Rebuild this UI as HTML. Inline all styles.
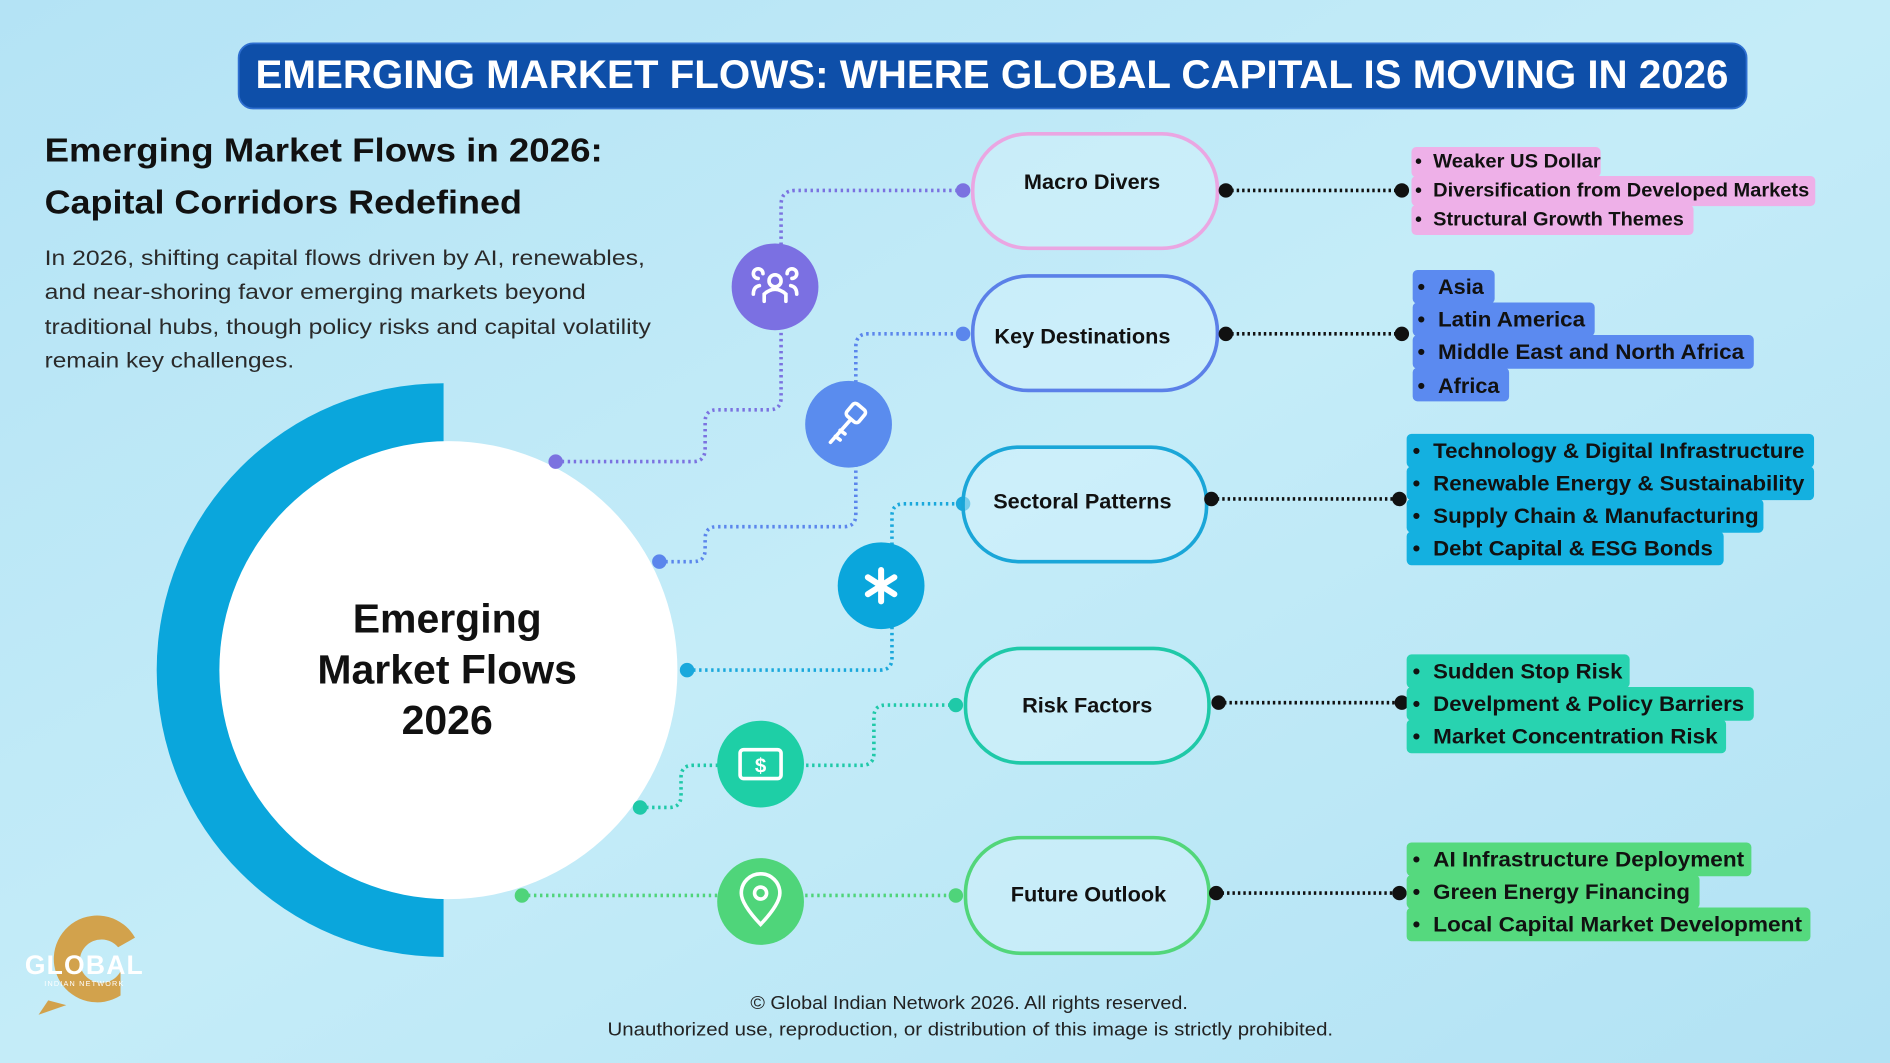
<!DOCTYPE html>
<html><head><meta charset="utf-8"><style>
html,body{margin:0;padding:0;width:1890px;height:1063px;overflow:hidden;background:#bde8f6}
svg{display:block}
text{font-family:"Liberation Sans",sans-serif}
</style></head><body>
<svg width="1890" height="1063" viewBox="0 0 1568 882" preserveAspectRatio="none" xmlns="http://www.w3.org/2000/svg">
<defs>
<linearGradient id="bg" x1="0" y1="0" x2="1" y2="1">
<stop offset="0" stop-color="#b4e3f5"/><stop offset="0.5" stop-color="#c4ecf8"/><stop offset="1" stop-color="#b2e2f4"/>
</linearGradient>
<clipPath id="lh"><rect x="0" y="0" width="368" height="882"/></clipPath>
</defs>
<rect width="1568" height="882" fill="url(#bg)"/>

<!-- title -->
<rect x="198" y="36" width="1251" height="54" rx="12" fill="#0e4fa9" stroke="#2f6fd0" stroke-width="1.5"/>
<text x="823" y="73" text-anchor="middle" font-size="33" font-weight="bold" fill="#fff" textLength="1222" lengthAdjust="spacingAndGlyphs">EMERGING MARKET FLOWS: WHERE GLOBAL CAPITAL IS MOVING IN 2026</text>

<!-- heading -->
<text x="37" y="134" font-size="28" font-weight="bold" fill="#111" textLength="463" lengthAdjust="spacingAndGlyphs">Emerging Market Flows in 2026:</text>
<text x="37" y="177" font-size="28" font-weight="bold" fill="#111" textLength="396" lengthAdjust="spacingAndGlyphs">Capital Corridors Redefined</text>
<g font-size="18" fill="#2a2a2a">
<text x="37" y="220" textLength="498" lengthAdjust="spacingAndGlyphs">In 2026, shifting capital flows driven by AI, renewables,</text>
<text x="37" y="248" textLength="449" lengthAdjust="spacingAndGlyphs">and near-shoring favor emerging markets beyond</text>
<text x="37" y="277" textLength="503" lengthAdjust="spacingAndGlyphs">traditional hubs, though policy risks and capital volatility</text>
<text x="37" y="305" textLength="207" lengthAdjust="spacingAndGlyphs">remain key challenges.</text>
</g>

<!-- big ring -->
<circle cx="368" cy="556" r="238" fill="#0aa6dc" clip-path="url(#lh)"/>
<circle cx="372" cy="556" r="190" fill="#fff"/>
<g font-size="34" font-weight="bold" fill="#111" text-anchor="middle">
<text x="371" y="525">Emerging</text>
<text x="371" y="567">Market Flows</text>
<text x="371" y="609">2026</text>
</g>

<!-- colored dotted connectors -->
<g fill="none" stroke-width="3" stroke-dasharray="2 3">
<path d="M461,383 H575 Q585,383 585,372 V350 Q585,340 595,340 H638 Q648,340 648,330 V170 Q648,158 660,158 H799" stroke="#7b72e0"/>
<path d="M547,466 H575 Q585,466 585,456 V447 Q585,437 595,437 H700 Q710,437 710,427 V288 Q710,277 720,277 H799" stroke="#5b86ec"/>
<path d="M570,556 H730 Q740,556 740,546 V428 Q740,418 750,418 H799" stroke="#1aa8dc"/>
<path d="M531,670 H555 Q565,670 565,660 V645 Q565,635 575,635 H715 Q725,635 725,625 V595 Q725,585 735,585 H793" stroke="#1fc9a8"/>
<path d="M433,743 H793" stroke="#4fd47a"/>
</g>
<circle cx="461" cy="383" r="6" fill="#7b72e0"/><circle cx="799" cy="158" r="6" fill="#7b72e0"/>
<circle cx="547" cy="466" r="6" fill="#5b86ec"/><circle cx="799" cy="277" r="6" fill="#5b86ec"/>
<circle cx="570" cy="556" r="6" fill="#1aa8dc"/><circle cx="799" cy="418" r="6" fill="#1aa8dc"/>
<circle cx="531" cy="670" r="6" fill="#1fc9a8"/><circle cx="793" cy="585" r="6" fill="#1fc9a8"/>
<circle cx="433" cy="743" r="6" fill="#4fd47a"/><circle cx="793" cy="743" r="6" fill="#4fd47a"/>

<!-- icons -->
<circle cx="643" cy="238" r="36" fill="#7b70e2"/>
<g stroke="#fff" stroke-width="3" fill="none" stroke-linecap="round">
<circle cx="643" cy="233" r="5"/><path d="M634,250 V244 Q643,236 652,244 V250"/>
<path d="M629,231 a4,4 0 1 1 4,-4 M625,244 Q625,238 630,237"/>
<path d="M657,231 a4,4 0 1 0 -4,-4 M661,244 Q661,238 656,237"/>
</g>
<circle cx="704" cy="352" r="36" fill="#5a8cee"/>
<g stroke="#fff" stroke-width="3" fill="none" stroke-linecap="round">
<rect x="704" y="336" width="13" height="13" rx="3" transform="rotate(40 710 342)"/>
<path d="M705,349 L689,367 M693,362 l4,3 M697,357 l4,3"/>
</g>
<circle cx="731" cy="486" r="36" fill="#0aa6dc"/>
<g stroke="#fff" stroke-width="5" stroke-linecap="round">
<path d="M731,473 V499 M720,479 L742,493 M742,479 L720,493"/>
</g>
<circle cx="631" cy="634" r="36" fill="#1ecfa6"/>
<rect x="614" y="622" width="34" height="24" rx="3" fill="none" stroke="#fff" stroke-width="3"/>
<text x="631" y="641" text-anchor="middle" font-size="17" font-weight="bold" fill="#fff">$</text>
<circle cx="631" cy="748" r="36" fill="#4fd57a"/>
<path d="M631,767 Q615,750 615,741 A16,16 0 1 1 647,741 Q647,750 631,767 Z" fill="none" stroke="#fff" stroke-width="3"/>
<circle cx="631" cy="741" r="5" fill="none" stroke="#fff" stroke-width="3"/>

<!-- pills -->
<g stroke-width="3" fill="#d4f1fb" fill-opacity="0.5">
<rect x="807" y="111" width="203" height="95" rx="46" stroke="#eaa6e2"/>
<rect x="807" y="229" width="203" height="95" rx="46" stroke="#5b80e8"/>
<rect x="799" y="371" width="202" height="95" rx="46" stroke="#1aa6d8"/>
<rect x="801" y="538" width="202" height="95" rx="46" stroke="#1fc9a8"/>
<rect x="801" y="695" width="202" height="96" rx="46" stroke="#52d67a"/>
</g>
<g font-size="18" font-weight="bold" fill="#111" text-anchor="middle">
<text x="906" y="157">Macro Divers</text>
<text x="898" y="285">Key Destinations</text>
<text x="898" y="422">Sectoral Patterns</text>
<text x="902" y="591">Risk Factors</text>
<text x="903" y="748">Future Outlook</text>
</g>

<!-- black connectors -->
<g stroke="#111" stroke-width="3" stroke-dasharray="2 2.5" fill="none">
<path d="M1017,158 H1163"/><path d="M1017,277 H1163"/><path d="M1005,414 H1161"/><path d="M1011,583 H1163"/><path d="M1009,741 H1161"/>
</g>
<g fill="#111">
<circle cx="1017" cy="158" r="6"/><circle cx="1163" cy="158" r="6"/>
<circle cx="1017" cy="277" r="6"/><circle cx="1163" cy="277" r="6"/>
<circle cx="1005" cy="414" r="6"/><circle cx="1161" cy="414" r="6"/>
<circle cx="1011" cy="583" r="6"/><circle cx="1163" cy="583" r="6"/>
<circle cx="1009" cy="741" r="6"/><circle cx="1161" cy="741" r="6"/>
</g>

<!-- bullet boxes -->
<g fill="#eeb0e8">
<rect x="1171" y="122" width="157" height="25" rx="4"/><rect x="1171" y="146" width="335" height="25" rx="4"/><rect x="1171" y="170" width="234" height="25" rx="4"/>
</g>
<g fill="#5b8af0">
<rect x="1172" y="224" width="68" height="28" rx="4"/><rect x="1172" y="251" width="151" height="28" rx="4"/><rect x="1172" y="278" width="283" height="28" rx="4"/><rect x="1172" y="305" width="80" height="28" rx="4"/>
</g>
<g fill="#14b0e0">
<rect x="1167" y="360" width="338" height="28" rx="4"/><rect x="1167" y="387" width="338" height="28" rx="4"/><rect x="1167" y="414" width="296" height="28" rx="4"/><rect x="1167" y="441" width="263" height="28" rx="4"/>
</g>
<g fill="#28d3b0">
<rect x="1167" y="543" width="185" height="28" rx="4"/><rect x="1167" y="570" width="288" height="28" rx="4"/><rect x="1167" y="597" width="265" height="28" rx="4"/>
</g>
<g fill="#55d97e">
<rect x="1167" y="699" width="286" height="28" rx="4"/><rect x="1167" y="726" width="243" height="28" rx="4"/><rect x="1167" y="753" width="335" height="28" rx="4"/>
</g>
<g font-weight="bold" fill="#111">
<g font-size="16">
<text x="1174" y="139">•</text><text x="1189" y="139" textLength="139" lengthAdjust="spacingAndGlyphs">Weaker US Dollar</text>
<text x="1174" y="163">•</text><text x="1189" y="163" textLength="312" lengthAdjust="spacingAndGlyphs">Diversification from Developed Markets</text>
<text x="1174" y="187">•</text><text x="1189" y="187" textLength="208" lengthAdjust="spacingAndGlyphs">Structural Growth Themes</text>
</g>
<g font-size="18">
<text x="1176" y="244">•</text><text x="1193" y="244">Asia</text>
<text x="1176" y="271">•</text><text x="1193" y="271" textLength="122" lengthAdjust="spacingAndGlyphs">Latin America</text>
<text x="1176" y="298">•</text><text x="1193" y="298" textLength="254" lengthAdjust="spacingAndGlyphs">Middle East and North Africa</text>
<text x="1176" y="326">•</text><text x="1193" y="326">Africa</text>
<text x="1172" y="380">•</text><text x="1189" y="380" textLength="308" lengthAdjust="spacingAndGlyphs">Technology &amp; Digital Infrastructure</text>
<text x="1172" y="407">•</text><text x="1189" y="407" textLength="308" lengthAdjust="spacingAndGlyphs">Renewable Energy &amp; Sustainability</text>
<text x="1172" y="434">•</text><text x="1189" y="434" textLength="270" lengthAdjust="spacingAndGlyphs">Supply Chain &amp; Manufacturing</text>
<text x="1172" y="461">•</text><text x="1189" y="461" textLength="232" lengthAdjust="spacingAndGlyphs">Debt Capital &amp; ESG Bonds</text>
<text x="1172" y="563">•</text><text x="1189" y="563" textLength="157" lengthAdjust="spacingAndGlyphs">Sudden Stop Risk</text>
<text x="1172" y="590">•</text><text x="1189" y="590" textLength="258" lengthAdjust="spacingAndGlyphs">Develpment &amp; Policy Barriers</text>
<text x="1172" y="617">•</text><text x="1189" y="617" textLength="236" lengthAdjust="spacingAndGlyphs">Market Concentration Risk</text>
<text x="1172" y="719">•</text><text x="1189" y="719" textLength="258" lengthAdjust="spacingAndGlyphs">AI Infrastructure Deployment</text>
<text x="1172" y="746">•</text><text x="1189" y="746" textLength="213" lengthAdjust="spacingAndGlyphs">Green Energy Financing</text>
<text x="1172" y="773">•</text><text x="1189" y="773" textLength="306" lengthAdjust="spacingAndGlyphs">Local Capital Market Development</text>
</g>
</g>

<!-- logo -->
<path d="M112,778 A36,36 0 1 0 100,826 L100,806 A18,18 0 1 1 98,786 Z" fill="#d2a24c"/>
<path d="M40,830 L32,842 L55,834 Z" fill="#d2a24c"/>
<text x="70" y="808" text-anchor="middle" font-size="22" font-weight="bold" fill="#fff" letter-spacing="1">GLOBAL</text>
<text x="70" y="818" text-anchor="middle" font-size="6" fill="#fff" letter-spacing="1">INDIAN NETWORK</text>

<!-- footer -->
<g font-size="15" fill="#222" text-anchor="middle">
<text x="804" y="837" textLength="363" lengthAdjust="spacingAndGlyphs">© Global Indian Network 2026. All rights reserved.</text>
<text x="805" y="859" textLength="602" lengthAdjust="spacingAndGlyphs">Unauthorized use, reproduction, or distribution of this image is strictly prohibited.</text>
</g>
</svg>
</body></html>
